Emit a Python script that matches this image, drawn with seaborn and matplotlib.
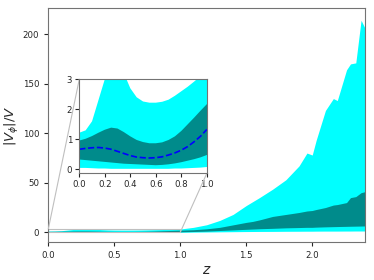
import seaborn as sns
import matplotlib.pyplot as plt
import pandas as pd
from mpl_toolkits.axes_grid1.inset_locator import mark_inset

sns.set_style("ticks")

z = [0, 0.05, 0.1, 0.15, 0.2, 0.25, 0.3, 0.35, 0.4, 0.45, 0.5, 0.55, 0.6, 0.65,
     0.7, 0.75, 0.8, 0.85, 0.9, 0.95, 1.0, 1.1, 1.2, 1.3, 1.4, 1.5, 1.55, 1.6,
     1.7, 1.8, 1.9, 1.96, 2.0, 2.03, 2.1, 2.16, 2.19, 2.26, 2.29, 2.33, 2.37, 2.4]
cyan_lo = [0.05, 0.05, 0.04, 0.03, 0.03, 0.02, 0.02, 0.02, 0.02, 0.02, 0.02, 0.02,
           0.02, 0.02, 0.02, 0.03, 0.03, 0.04, 0.05, 0.06, 0.08, 0.15, 0.3, 0.45,
           0.6, 0.75, 0.8, 0.85, 0.9, 1.0, 1.05, 1.1, 1.1, 1.15, 1.2, 1.2, 1.2,
           1.25, 1.25, 1.3, 1.3, 1.3]
teal_lo = [0.33, 0.31, 0.29, 0.27, 0.25, 0.23, 0.21, 0.19, 0.18, 0.17, 0.16, 0.15,
           0.14, 0.15, 0.17, 0.2, 0.24, 0.29, 0.34, 0.4, 0.48, 0.8, 1.2, 1.8, 2.4,
           3.0, 3.3, 3.6, 4.0, 4.5, 4.8, 5.0, 5.0, 5.2, 5.5, 5.7, 5.8, 6.0, 6.1,
           6.2, 6.3, 6.4]
teal_hi = [0.96, 1.02, 1.11, 1.22, 1.32, 1.39, 1.36, 1.24, 1.1, 0.98, 0.91, 0.87,
           0.87, 0.9, 0.98, 1.1, 1.28, 1.5, 1.72, 1.95, 2.17, 2.6, 3.5, 5.0, 7.5,
           10, 11, 12.5, 16, 18, 20, 21.5, 22, 23, 25, 27.5, 28, 30, 35, 36, 40, 41]
cyan_hi = [1.22, 1.3, 1.6, 2.3, 3.0, 3.4, 3.5, 3.2, 2.7, 2.4, 2.26, 2.22,
           2.22, 2.25, 2.32, 2.45, 2.6, 2.75, 2.92, 3.1, 3.3, 5, 7.6, 12, 18, 27,
           31, 35, 43.5, 53, 67, 80, 78, 93, 123, 135, 133, 164, 170, 171, 214, 206]

z_med = [0, 0.05, 0.1, 0.15, 0.2, 0.25, 0.3, 0.35, 0.4, 0.45, 0.5, 0.55, 0.6,
         0.65, 0.7, 0.75, 0.8, 0.85, 0.9, 0.95, 1.0]
median = [0.67, 0.7, 0.72, 0.73, 0.71, 0.67, 0.6, 0.53, 0.46, 0.41, 0.39, 0.38,
          0.39, 0.42, 0.48, 0.55, 0.64, 0.76, 0.92, 1.1, 1.33]

df = pd.DataFrame({"z": z, "cyan_lo": cyan_lo, "teal_lo": teal_lo,
                   "teal_hi": teal_hi, "cyan_hi": cyan_hi})
med = pd.DataFrame({"z": z_med, "median": median})

fig = plt.figure(figsize=(3.74, 2.8), dpi=100)
ax = fig.add_axes([0.129, 0.135, 0.847, 0.835])
ax.fill_between(df["z"], df["cyan_lo"], df["cyan_hi"], color="cyan", lw=0)
ax.fill_between(df["z"], df["teal_lo"], df["teal_hi"], color="darkcyan", lw=0)
ax.set_xlim(0, 2.4)
ax.set_ylim(-10, 226)
ax.set_xlabel("$z$", fontsize=10, labelpad=2)
ax.set_ylabel(r"$|V_\phi|/V$", fontsize=9.5, labelpad=1)
ax.tick_params(labelsize=6.2, length=3)

axins = fig.add_axes([0.212, 0.381, 0.341, 0.336])
axins.fill_between(df["z"], df["cyan_lo"], df["cyan_hi"], color="cyan", lw=0)
axins.fill_between(df["z"], df["teal_lo"], df["teal_hi"], color="darkcyan", lw=0)
sns.lineplot(data=med, x="z", y="median", ax=axins, color="blue",
             linestyle="--", lw=1.2)
axins.set_xlim(0, 1)
axins.set_ylim(-0.13, 3)
axins.set_xlabel("")
axins.set_ylabel("")
axins.set_xticks([0, 0.2, 0.4, 0.6, 0.8, 1.0])
axins.set_yticks([0, 1, 2, 3])
axins.tick_params(labelsize=6.2, length=3, pad=2)

for a in (ax, axins):
    for s in a.spines.values():
        s.set_color("0.45")

mark_inset(ax, axins, loc1=2, loc2=4, fc="none", ec="0.75", lw=0.8)

fig.savefig("out.png", dpi=100)
